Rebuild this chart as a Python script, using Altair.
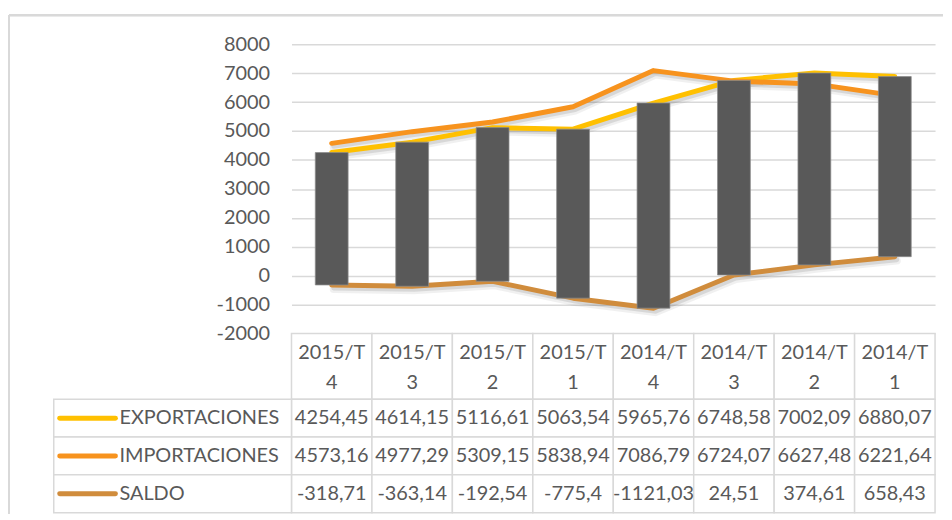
import altair as alt
import pandas as pd

categories = ["2015/T4", "2015/T3", "2015/T2", "2015/T1", "2014/T4", "2014/T3", "2014/T2", "2014/T1"]
series_names = ["EXPORTACIONES", "IMPORTACIONES", "SALDO"]
exportaciones = [4254.45, 4614.15, 5116.61, 5063.54, 5965.76, 6748.58, 7002.09, 6880.07]
importaciones = [4573.16, 4977.29, 5309.15, 5838.94, 7086.79, 6724.07, 6627.48, 6221.64]
saldo = [-318.71, -363.14, -192.54, -775.4, -1121.03, 24.51, 374.61, 658.43]
y_ticks = [-2000, -1000, 0, 1000, 2000, 3000, 4000, 5000, 6000, 7000, 8000]
series_colors = ["#FFC000", "#F7931E", "#D08C3C"]

FONT = "Lato"
TXT = "#595959"
GRID = "#D9D9D9"

wide = pd.DataFrame({"cat": categories, "EXPORTACIONES": exportaciones,
                     "IMPORTACIONES": importaciones, "SALDO": saldo})
long = wide.melt(id_vars="cat", var_name="serie", value_name="valor")
long["label"] = long["valor"].map(lambda v: ("%g" % v).replace(".", ","))
hdr = pd.DataFrame({"cat": categories, "head": [c[:-1] + "\n" + c[-1] for c in categories]})
leg = pd.DataFrame({"serie": series_names})

W = 647
xs = alt.X("cat:N", sort=categories, axis=None,
           scale=alt.Scale(domain=categories, paddingInner=0, paddingOuter=0))
color = alt.Color("serie:N", legend=None,
                  scale=alt.Scale(domain=series_names, range=series_colors))

yscale = alt.Scale(domain=[-2000, 8000], nice=False, zero=False)
yaxis = alt.Axis(values=y_ticks, domain=False, ticks=False,
                 labelExpr="'' + datum.value", labelOverlap=False,
                 labelFont=FONT, labelFontSize=20, labelColor=TXT, labelPadding=22,
                 gridColor=GRID, gridWidth=1.5)
ys = alt.Y("valor:Q", title=None, scale=yscale, axis=yaxis)

base_long = alt.Chart(long)
shadow1 = base_long.mark_line(strokeWidth=8, color="#000000", opacity=0.06,
                              xOffset=2, yOffset=4, strokeCap="round").encode(
    x=xs, y=ys, detail="serie:N")
shadow2 = base_long.mark_line(strokeWidth=5, color="#000000", opacity=0.10,
                              xOffset=2, yOffset=3, strokeCap="round").encode(
    x=xs, y=ys, detail="serie:N")
lines = base_long.mark_line(strokeWidth=5, strokeCap="round", strokeJoin="round").encode(
    x=xs, y=ys, color=color)
bars = alt.Chart(wide).mark_bar(size=33, color="#595959", stroke="#8C8C8C",
                                strokeWidth=0.75).encode(
    x=xs, y=alt.Y("SALDO:Q", title=None, scale=yscale, axis=yaxis),
    y2="EXPORTACIONES:Q")

border_top = alt.Chart(leg).mark_rule(color=GRID, strokeWidth=2).encode(
    x=alt.value(-284), x2=alt.value(655), y=alt.value(-29))
border_left = alt.Chart(leg).mark_rule(color=GRID, strokeWidth=2).encode(
    x=alt.value(-284), y=alt.value(-29), y2=alt.value(472))

top = alt.layer(border_top, border_left, shadow1, shadow2, lines, bars).properties(width=W, height=291)

# header row of table
hdr_base = alt.Chart(hdr)
hdr_cells = hdr_base.mark_rect(fill="white", stroke=GRID, strokeWidth=1.5).encode(
    x=xs, y=alt.value(0), y2=alt.value(66))
hdr_text = hdr_base.mark_text(font=FONT, fontSize=20, color=TXT, lineBreak="\n",
                              lineHeight=30, baseline="middle", align="center").encode(
    x=xs, y=alt.value(20), text="head:N")
header = alt.layer(hdr_cells, hdr_text).properties(width=W, height=66)

# body rows of table
yrow = alt.Y("serie:N", sort=series_names, axis=None,
             scale=alt.Scale(domain=series_names, paddingInner=0, paddingOuter=0))
cells = base_long.mark_rect(fill="white", stroke=GRID, strokeWidth=1.5).encode(x=xs, y=yrow)
vals = base_long.mark_text(font=FONT, fontSize=20, color=TXT, align="center",
                           baseline="middle").encode(x=xs, y=yrow, text="label:N")
leg_base = alt.Chart(leg)
leg_cells = leg_base.mark_rect(fill="white", stroke=GRID, strokeWidth=1.5).encode(
    x=alt.value(-239), x2=alt.value(0), y=yrow)
swatch = leg_base.mark_rule(strokeWidth=5, strokeCap="round").encode(
    x=alt.value(-233), x2=alt.value(-177), y=yrow, color=color)
leg_text = leg_base.mark_text(font=FONT, fontSize=20, color=TXT, align="left",
                              baseline="middle").encode(
    x=alt.value(-173), y=yrow, text="serie:N")
body = alt.layer(cells, leg_cells, swatch, leg_text, vals).properties(width=W, height=114)

chart = alt.vconcat(top, header, body, spacing=0, bounds="flush").properties(
    padding={"left": 0, "top": 5, "right": 0, "bottom": 0}
).configure_view(stroke=None).resolve_scale(color="shared")

chart.save("out.html", embed_options={"renderer": "svg", "actions": False})
